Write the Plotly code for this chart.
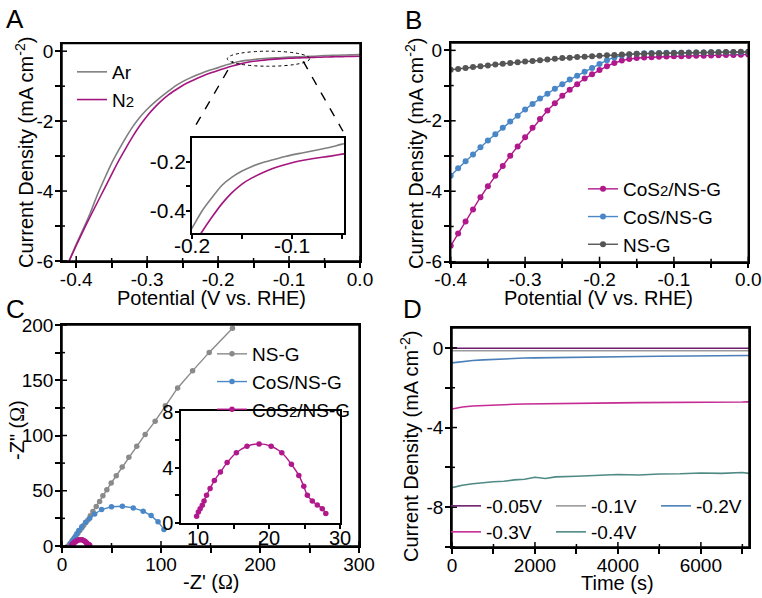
import plotly.graph_objects as go

W, H = 762, 598
FONT = "Liberation Sans, Arial, Helvetica, sans-serif"

# ---------------- A : LSV in Ar / N2
pot_a = [-0.41, -0.40, -0.39, -0.38, -0.37, -0.36, -0.35, -0.34, -0.33, -0.32, -0.31,
         -0.30, -0.29, -0.28, -0.27, -0.26, -0.25, -0.24, -0.23, -0.22, -0.21,
         -0.20, -0.19, -0.18, -0.17, -0.16, -0.15, -0.14, -0.13, -0.12, -0.11,
         -0.10, -0.09, -0.08, -0.07, -0.06, -0.05, -0.04, -0.03, -0.02, -0.01, 0.00]
ar_j = [-6.0, -5.52, -5.08, -4.62, -4.1, -3.64, -3.2, -2.82, -2.47, -2.15, -1.88,
        -1.66, -1.47, -1.3, -1.14, -0.99, -0.87, -0.77, -0.68, -0.6, -0.53,
        -0.47, -0.4, -0.345, -0.295, -0.262, -0.237, -0.218, -0.203, -0.192, -0.181,
        -0.171, -0.163, -0.155, -0.147, -0.138, -0.127, -0.12, -0.114, -0.108, -0.102, -0.096]
n2_j = [-6.0, -5.56, -5.13, -4.72, -4.32, -3.92, -3.52, -3.13, -2.77, -2.43, -2.12,
        -1.85, -1.62, -1.42, -1.25, -1.11, -0.98, -0.875, -0.78, -0.695, -0.62,
        -0.55, -0.485, -0.425, -0.37, -0.325, -0.29, -0.265, -0.245, -0.228, -0.214,
        -0.203, -0.194, -0.187, -0.181, -0.175, -0.168, -0.162, -0.157, -0.152, -0.148, -0.144]

# ---------------- B : LSV of the three catalysts
pot_b = [-0.40, -0.39, -0.38, -0.37, -0.36, -0.35, -0.34, -0.33, -0.32, -0.31,
         -0.30, -0.29, -0.28, -0.27, -0.26, -0.25, -0.24, -0.23, -0.22, -0.21,
         -0.20, -0.19, -0.18, -0.17, -0.16, -0.15, -0.14, -0.13, -0.12, -0.11,
         -0.10, -0.09, -0.08, -0.07, -0.06, -0.05, -0.04, -0.03, -0.02, -0.01, 0.00]
cos2_j = [-5.55, -5.2, -4.86, -4.52, -4.17, -3.86, -3.56, -3.28, -2.99, -2.73,
          -2.47, -2.2, -1.95, -1.71, -1.5, -1.29, -1.12, -0.96, -0.8, -0.68,
          -0.56, -0.45, -0.36, -0.29, -0.245, -0.22, -0.205, -0.195, -0.185, -0.178,
          -0.17, -0.165, -0.16, -0.155, -0.15, -0.145, -0.14, -0.135, -0.13, -0.125, -0.12]
cos_j = [-3.56, -3.35, -3.15, -2.96, -2.75, -2.56, -2.38, -2.2, -2.02, -1.86,
         -1.68, -1.52, -1.37, -1.23, -1.09, -0.96, -0.83, -0.72, -0.61, -0.5,
         -0.39, -0.28, -0.2, -0.145, -0.115, -0.095, -0.085, -0.078, -0.073, -0.07,
         -0.067, -0.065, -0.063, -0.061, -0.059, -0.057, -0.055, -0.054, -0.052, -0.051, -0.05]
nsg_j = [-0.55, -0.53, -0.5, -0.47, -0.45, -0.43, -0.4, -0.38, -0.36, -0.34,
         -0.32, -0.3, -0.28, -0.26, -0.24, -0.22, -0.21, -0.19, -0.18, -0.165,
         -0.15, -0.14, -0.13, -0.12, -0.11, -0.1, -0.095, -0.09, -0.085, -0.08,
         -0.075, -0.07, -0.066, -0.062, -0.058, -0.055, -0.052, -0.049, -0.046, -0.043, -0.04]

# ---------------- C : Nyquist plots
nsg_zr = [6, 8, 10, 12, 14, 16, 18, 20, 22, 24, 26.2, 28.6, 31.2, 34.6, 38, 41.3, 45.3,
          49.7, 54.8, 60.8, 67.5, 75.5, 84, 94.1, 104.4, 116.8, 131.9, 148.7, 172.2]
nsg_zi = [0, 2.2, 4.5, 6.8, 9.2, 11.6, 14, 16.4, 18.8, 21.2, 23.6, 27.3, 31.2, 35.7, 40.3, 45.5,
          50.9, 57, 63.6, 71.5, 80.3, 90.3, 101, 113, 127, 143, 158.5, 175.2, 197]
cos_zr = [8, 9, 10, 11, 13, 15, 17, 20, 24, 28, 33, 40, 50, 61, 72, 82, 90, 97, 103]
cos_zi = [0.5, 2, 3.5, 5.5, 8, 11, 14, 17.5, 21.5, 25, 29, 33, 35.5, 36, 34.5, 31.5, 27.5, 22, 15]
cos2_zr = [9.8, 10.05, 10.3, 10.6, 10.85, 11.2, 11.7, 12.3, 13.15, 14.1, 15.4, 16.9, 18.6,
           20.3, 21.8, 23.15, 24.2, 24.9, 25.4, 26.1, 26.8, 27.5, 28.0]
cos2_zi = [0.49, 0.79, 1.03, 1.28, 1.6, 2.0, 2.5, 3.07, 3.68, 4.37, 5.08, 5.55, 5.72,
           5.55, 5.08, 4.25, 3.44, 2.65, 2.0, 1.6, 1.3, 1.03, 0.69]

# ---------------- D : chronoamperometry
time_s = [0, 100, 250, 500, 750, 1000, 1250, 1500, 1750, 2000, 2250, 2500,
          3000, 3500, 4000, 4500, 5000, 5500, 6000, 6500, 7000, 7160]
j_005 = [-0.02, -0.02, -0.02, -0.02, -0.02, -0.02, -0.02, -0.02, -0.02, -0.02, -0.02,
         -0.02, -0.02, -0.02, -0.02, -0.02, -0.02, -0.02, -0.02, -0.02, -0.02, -0.02]
j_01 = [-0.14, -0.14, -0.14, -0.14, -0.14, -0.14, -0.14, -0.14, -0.14, -0.14, -0.14,
        -0.14, -0.14, -0.14, -0.14, -0.14, -0.14, -0.14, -0.14, -0.14, -0.14, -0.14]
j_02 = [-0.75, -0.72, -0.68, -0.63, -0.6, -0.57, -0.55, -0.53, -0.51, -0.5, -0.49,
        -0.48, -0.46, -0.45, -0.43, -0.43, -0.42, -0.41, -0.40, -0.40, -0.38, -0.38]
j_03 = [-3.07, -3.02, -2.97, -2.92, -2.89, -2.86, -2.84, -2.83, -2.82, -2.81, -2.8,
        -2.79, -2.78, -2.77, -2.76, -2.75, -2.75, -2.74, -2.73, -2.72, -2.72, -2.71]
j_04 = [-7.02, -6.97, -6.9, -6.82, -6.76, -6.72, -6.7, -6.63, -6.6, -6.5, -6.56,
        -6.48, -6.45, -6.42, -6.36, -6.38, -6.33, -6.32, -6.28, -6.3, -6.26, -6.3]

# tick positions / labels ("" = unlabeled minor tick)
pot_ticks = [-0.4, -0.35, -0.3, -0.25, -0.2, -0.15, -0.1, -0.05, 0.0]
pot_labels = ["-0.4", "", "-0.3", "", "-0.2", "", "-0.1", "", "0.0"]
j_ticks = [0, -1, -2, -3, -4, -5, -6]
j_labels = ["0", "", "-2", "", "-4", "", "-6"]
insa_xticks = [-0.2, -0.15, -0.1, -0.05]
insa_xlabels = ["-0.2", "", "-0.1", ""]
insa_yticks = [-0.2, -0.3, -0.4]
insa_ylabels = ["-0.2", "", "-0.4"]
z_ticks = [0, 50, 100, 150, 200, 250, 300]
z_labels = ["0", "", "100", "", "200", "", "300"]
zi_ticks = [0, 25, 50, 75, 100, 125, 150, 175, 200]
zi_labels = ["0", "", "50", "", "100", "", "150", "", "200"]
insc_xticks = [10, 15, 20, 25, 30]
insc_xlabels = ["10", "", "20", "", "30"]
insc_yticks = [0, 2, 4, 6, 8]
insc_ylabels = ["0", "", "4", "", "8"]
t_ticks = [0, 1000, 2000, 3000, 4000, 5000, 6000, 7000]
t_labels = ["0", "", "2000", "", "4000", "", "6000", ""]
jd_ticks = [0, -2, -4, -6, -8, -10]
jd_labels = ["0", "", "-4", "", "-8", ""]

# axis ranges
rng_a_x, rng_a_y = [-0.42, 0], [-6, 0.22]
rng_b_x, rng_b_y = [-0.4, 0], [-6, 0.2]
rng_c_x, rng_c_y = [0, 300], [0, 200]
rng_d_x, rng_d_y = [0, 7160], [-10, 1]

GRAY_A, MAG_A = "#7f7f7f", "#a3157f"
MAG, BLUE, DGRAY, LGRAY = "#b0188c", "#4a87c6", "#555555", "#8a8a8a"

# panel boxes in pixels: left, right, top, bottom
BOX = {"A": (62, 360, 43.5, 261), "Ain": (192, 344, 137.5, 233),
       "B": (450.7, 748.3, 43.3, 261.7), "C": (62, 359, 325, 546),
       "Cin": (181, 340, 411, 523), "D": (452, 749, 328, 547)}


def dom_x(k):
    return [BOX[k][0] / W, BOX[k][1] / W]


def dom_y(k):
    return [1 - BOX[k][3] / H, 1 - BOX[k][2] / H]


def axis(box, rng, anchor, tickvals, ticktext, size=19, standoff=0, xdir=True, ticklen=5):
    return dict(domain=dom_x(box) if xdir else dom_y(box), range=rng, anchor=anchor,
                showline=True, mirror=True,
                linecolor="black", linewidth=1.5, showgrid=False, zeroline=False,
                automargin=False, ticks="outside", ticklen=ticklen, tickwidth=1.5, tickcolor="black",
                tickmode="array", tickvals=tickvals, ticktext=ticktext, ticklabelstandoff=standoff,
                tickfont=dict(family=FONT, size=size, color="black"))


fig = go.Figure()

# A main (x/y) + inset (x2/y2)
for xa, ya, show in [("x", "y", True), ("x2", "y2", False)]:
    fig.add_trace(go.Scatter(x=pot_a, y=ar_j, mode="lines", name="Ar", xaxis=xa, yaxis=ya,
                             line=dict(color=GRAY_A, width=1.6, shape="spline", smoothing=0.6),
                             showlegend=show, legend="legend"))
    fig.add_trace(go.Scatter(x=pot_a, y=n2_j, mode="lines",
                             name="N<span style='font-size:15px'>2</span>", xaxis=xa, yaxis=ya,
                             line=dict(color=MAG_A, width=1.6, shape="spline", smoothing=0.6),
                             showlegend=show, legend="legend"))

# B (x3/y3)
for name, yv, col in [("CoS<span style='font-size:15px'>2</span>/NS-G", cos2_j, MAG),
                      ("CoS/NS-G", cos_j, BLUE), ("NS-G", nsg_j, DGRAY)]:
    fig.add_trace(go.Scatter(x=pot_b, y=yv, mode="lines+markers", name=name, xaxis="x3", yaxis="y3",
                             line=dict(color=col, width=1.4), marker=dict(color=col, size=6),
                             legend="legend2"))

# C main (x4/y4) + inset (x5/y5)
for name, xv, yv, col in [("NS-G", nsg_zr, nsg_zi, LGRAY), ("CoS/NS-G", cos_zr, cos_zi, BLUE),
                          ("CoS<span style='font-size:15px'>2</span>/NS-G", cos2_zr, cos2_zi, MAG)]:
    fig.add_trace(go.Scatter(x=xv, y=yv, mode="lines+markers", name=name, xaxis="x4", yaxis="y4",
                             line=dict(color=col, width=1.4), marker=dict(color=col, size=5.5),
                             legend="legend3"))
fig.add_trace(go.Scatter(x=cos2_zr, y=cos2_zi, mode="lines+markers", xaxis="x5", yaxis="y5",
                         line=dict(color=MAG, width=1.4, shape="spline"), marker=dict(color=MAG, size=5.5),
                         showlegend=False))

# D (x6/y6)
d_series = [("-0.05V", j_005, "#6d1f6e", "legend4"), ("-0.1V", j_01, "#9a9a9a", "legend4"),
            ("-0.2V", j_02, "#4a7fb8", "legend4"), ("-0.3V", j_03, "#c42c93", "legend5"),
            ("-0.4V", j_04, "#4f8a84", "legend5")]
for name, yv, col, lg in d_series:
    fig.add_trace(go.Scatter(x=time_s, y=yv, mode="lines", name=name, xaxis="x6", yaxis="y6",
                             line=dict(color=col, width=1.6), legend=lg))

# frames + outside ticks of the main panels, drawn as unclipped traces
# (the axis lines of these panels did not show up in the rendered page)
for xa, ya, rx, ry, xt, xl, yt, yl in [
        ("x", "y", rng_a_x, rng_a_y, pot_ticks, pot_labels, j_ticks, j_labels),
        ("x3", "y3", rng_b_x, rng_b_y, pot_ticks, pot_labels, j_ticks, j_labels),
        ("x4", "y4", rng_c_x, rng_c_y, z_ticks, z_labels, zi_ticks, zi_labels),
        ("x6", "y6", rng_d_x, rng_d_y, t_ticks, t_labels, jd_ticks, jd_labels)]:
    fig.add_trace(go.Scatter(x=[rx[0], rx[1], rx[1], rx[0], rx[0]],
                             y=[ry[0], ry[0], ry[1], ry[1], ry[0]],
                             mode="lines", xaxis=xa, yaxis=ya, cliponaxis=False,
                             line=dict(color="black", width=1.5), showlegend=False, hoverinfo="skip"))
    for major in (True, False):
        ln = 5 if major else 3
        mk = dict(symbol="line-ns", size=ln / 1.4, standoff=ln / 2,
                  line=dict(color="black", width=1.5), color="black")
        xs = [v for v, lab in zip(xt, xl) if bool(lab) == major]
        ys = [v for v, lab in zip(yt, yl) if bool(lab) == major]
        fig.add_trace(go.Scatter(x=xs, y=[ry[0]] * len(xs), mode="markers", xaxis=xa, yaxis=ya,
                                 cliponaxis=False, marker=dict(mk, angle=180),
                                 showlegend=False, hoverinfo="skip"))
        fig.add_trace(go.Scatter(x=[rx[0]] * len(ys), y=ys, mode="markers", xaxis=xa, yaxis=ya,
                                 cliponaxis=False, marker=dict(mk, angle=-90),
                                 showlegend=False, hoverinfo="skip"))

legend_font = dict(family=FONT, size=19, color="black")


def legend(x, top, **kw):
    return dict(x=x / W, y=1 - top / H, xanchor="left", yanchor="top", bgcolor="rgba(0,0,0,0)",
                font=legend_font, tracegroupgap=0, **kw)


title_font = dict(family=FONT, size=20, color="black")
annotations = []
for txt, x, y, ang in [("Potential (V vs. RHE)", 211, 298, 0), ("Potential (V vs. RHE)", 598, 298, 0),
                       ("-Z' (<span style='font-family:Liberation Serif'>Ω</span>)", 211, 582, 0),
                       ("Time (s)", 617, 583, 0),
                       ("Current Density (mA cm<sup>-2</sup>)", 25, 153, -90),
                       ("Current Density (mA cm<sup>-2</sup>)", 414, 154, -90),
                       ("-Z\" (<span style='font-family:Liberation Serif'>Ω</span>)", 17, 430, -90),
                       ("Current Density (mA cm<sup>-2</sup>)", 410, 447, -90)]:
    annotations.append(dict(text=txt, x=x / W, y=1 - y / H, xref="paper", yref="paper",
                            showarrow=False, textangle=ang, font=title_font,
                            xanchor="center", yanchor="middle"))
for letter, x, y in [("A", 4, 2), ("B", 403, 3), ("C", 4, 292), ("D", 401, 292)]:
    annotations.append(dict(text=letter, x=x / W, y=1 - y / H, xref="paper", yref="paper",
                            showarrow=False, font=dict(family=FONT, size=26, color="black"),
                            xanchor="left", yanchor="top"))

dash_line = dict(color="black", width=1.4, dash="dash")
shapes = [
    dict(type="circle", xref="x", yref="y", x0=-0.187, x1=-0.071, y0=-0.43, y1=0.0,
         line=dict(color="black", width=1, dash="dot")),
    dict(type="line", xref="x", yref="y", x0=-0.231, y0=-2.1, x1=-0.179, y1=-0.29, line=dash_line),
    dict(type="line", xref="x", yref="y", x0=-0.080, y0=-0.29, x1=-0.024, y1=-2.29, line=dash_line),
]

fig.update_layout(
    template="none",
    width=W, height=H, margin=dict(l=0, r=0, t=0, b=0, autoexpand=False),
    paper_bgcolor="white", plot_bgcolor="rgba(0,0,0,0)",
    font=dict(family=FONT, color="black"),
    xaxis=axis("A", rng_a_x, "y", pot_ticks, pot_labels, standoff=-5),
    yaxis=axis("A", rng_a_y, "x", j_ticks, j_labels, xdir=False, standoff=-2),
    xaxis2=axis("Ain", [-0.2, -0.048], "y2", insa_xticks, insa_xlabels, size=21, standoff=-11,
                ticklen=4),
    yaxis2=axis("Ain", [-0.49, -0.1], "x2", insa_yticks, insa_ylabels, size=21, xdir=False,
                standoff=-4, ticklen=4),
    xaxis3=axis("B", rng_b_x, "y3", pot_ticks, pot_labels, standoff=-5),
    yaxis3=axis("B", rng_b_y, "x3", j_ticks, j_labels, xdir=False, standoff=-2),
    xaxis4=axis("C", rng_c_x, "y4", z_ticks, z_labels, standoff=-5),
    yaxis4=axis("C", rng_c_y, "x4", zi_ticks, zi_labels, xdir=False, standoff=-2),
    xaxis5=axis("Cin", [7.6, 30], "y5", insc_xticks, insc_xlabels, size=20, standoff=-8, ticklen=4),
    yaxis5=axis("Cin", [0, 8.1], "x5", insc_yticks, insc_ylabels, size=20, xdir=False,
                standoff=-2, ticklen=4),
    xaxis6=axis("D", rng_d_x, "y6", t_ticks, t_labels, standoff=-5),
    yaxis6=axis("D", rng_d_y, "x6", jd_ticks, jd_labels, xdir=False, standoff=-2),
    legend=legend(72, 53),
    legend2=legend(583, 170),
    legend3=legend(212, 335),
    legend4=legend(446, 487, orientation="h", entrywidth=60),
    legend5=legend(446, 513, orientation="h", entrywidth=60),
    annotations=annotations,
    shapes=shapes,
)

# drop the page's default 8px body margin so the figure sits at the window's corner
fig.write_html("out.html", config={"displayModeBar": False},
               post_script="document.body.style.margin = '0px';")
